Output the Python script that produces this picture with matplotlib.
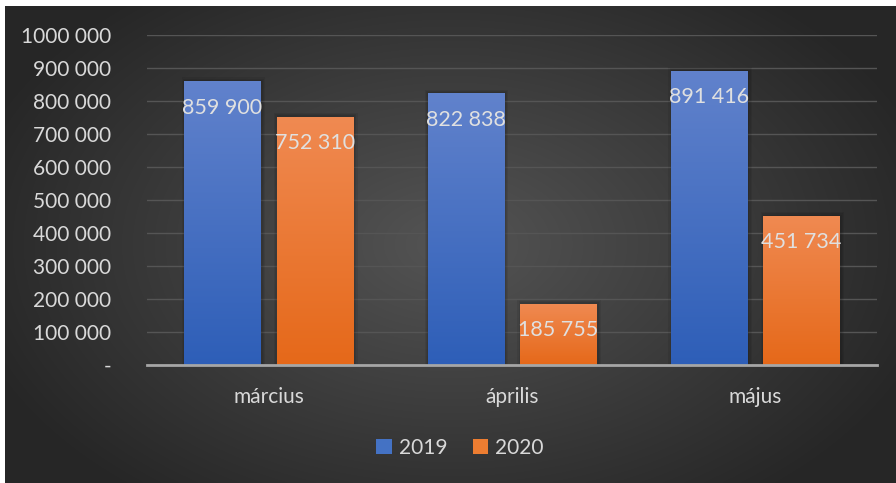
import matplotlib.pyplot as plt
import numpy as np
from matplotlib.patches import Rectangle

months = ["március", "április", "május"]
series = ["2019", "2020"]
values_2019 = [859900, 822838, 891416]
values_2020 = [752310, 185755, 451734]
yticks = [0, 100000, 200000, 300000, 400000, 500000, 600000, 700000, 800000, 900000, 1000000]


def fmt(v):
    # Excel style "# ##0" as shown: only the last group is split
    if v == 0:
        return "-"
    return f"{v // 1000} {v % 1000:03d}"


plt.rcParams['font.family'] = ['Lato', 'DejaVu Sans']
txt = '#d9d9d9'

fig = plt.figure(figsize=(8.96, 4.83), dpi=100)
fig.patch.set_facecolor('white')

# dark radial background
bg = fig.add_axes([5 / 896, 0, 891 / 896, 477 / 483])
bg.set_axis_off()
yy, xx = np.mgrid[0:1:300j, 0:1:500j]
r = np.sqrt(((xx - 0.5) / 0.75) ** 2 + ((yy - 0.5) / 0.9) ** 2)
r = np.clip(r / 0.75, 0, 1)
shade = 0.33 - 0.18 * r
bg.imshow(np.dstack([shade, shade, shade]), aspect='auto', extent=[0, 1, 0, 1], interpolation='bicubic')

ax = fig.add_axes([147 / 896, 1 - 365 / 483, 730 / 896, 330 / 483])
ax.set_facecolor('none')
ax.set_xlim(-0.5, 2.5)
ax.set_ylim(0, 1000000)

x = np.arange(len(months))
w = 0.313
off = 0.19
b1 = ax.bar(x - off, values_2019, w, color='#4472c4', label=series[0], zorder=3)
b2 = ax.bar(x + off, values_2020, w, color='#ed7d31', label=series[1], zorder=3)


def gradient(bars, top, bottom):
    grad = np.linspace(0, 1, 100)[:, None]
    top = np.array(top)
    bottom = np.array(bottom)
    img = top[None, None, :] * (1 - grad[:, :, None]) + bottom[None, None, :] * grad[:, :, None]
    for b in bars:
        x0, y0 = b.get_x(), b.get_y()
        bw, bh = b.get_width(), b.get_height()
        # soft shadow
        for k in (1, 2, 3):
            d = 0.005 * k
            ax.add_patch(Rectangle((x0 - d + 0.004, y0), bw + 2 * d, bh + 4000 * k, color='black',
                                   alpha=0.07, zorder=2, lw=0))
        im = ax.imshow(img, extent=[x0, x0 + bw, y0, y0 + bh], aspect='auto', zorder=4)
        im.set_clip_path(b)


gradient(b1, [0.38, 0.51, 0.80], [0.18, 0.37, 0.72])
gradient(b2, [0.94, 0.54, 0.32], [0.90, 0.41, 0.10])

for bars, vals in [(b1, values_2019), (b2, values_2020)]:
    for b, v in zip(bars, vals):
        ax.annotate(fmt(v), (b.get_x() + b.get_width() / 2, v), xytext=(0, -19),
                    textcoords='offset points', ha='center', va='center',
                    color='#e0e0e0', fontsize=15.5, zorder=6)

ax.set_yticks(yticks)
ax.set_yticklabels([fmt(v) for v in yticks])
ax.set_xticks(x)
ax.set_xticklabels(months)
ax.tick_params(axis='y', length=0, colors=txt, labelsize=15, pad=26)
ax.tick_params(axis='x', length=0, colors=txt, labelsize=15, pad=16)
ax.grid(axis='y', color='#555555', linewidth=1, zorder=1)
for s in ['top', 'right', 'left']:
    ax.spines[s].set_visible(False)
ax.spines['bottom'].set_color('#a6a6a6')
ax.spines['bottom'].set_linewidth(2)
ax.spines['bottom'].set_zorder(5)

leg = fig.legend(handles=[b1, b2], labels=series, loc='center', bbox_to_anchor=(460 / 896, 1 - 448 / 483),
                 ncol=2, frameon=False, fontsize=15, handlelength=0.75, handleheight=0.75,
                 handletextpad=0.35, columnspacing=1.2)
for t in leg.get_texts():
    t.set_color(txt)

fig.savefig('out.png', dpi=100)
